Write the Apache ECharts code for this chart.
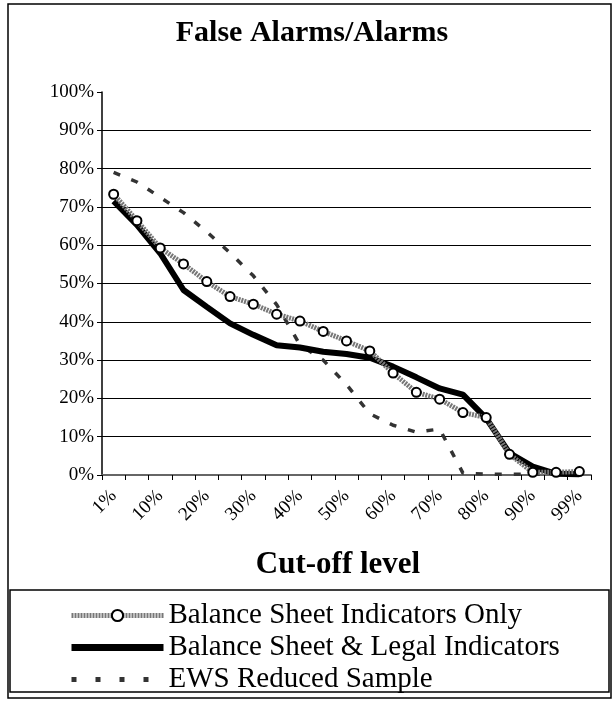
<!DOCTYPE html>
<html>
<head>
<meta charset="utf-8">
<script src="https://cdn.jsdelivr.net/npm/echarts@6/dist/echarts.min.js"></script>
<style>
html,body{margin:0;padding:0;background:#fff;}
#chart{width:615px;height:702px;}
</style>
</head>
<body>
<div id="chart"></div>
<script>
var categories = ['1%','5%','10%','15%','20%','25%','30%','35%','40%','45%','50%','55%','60%','65%','70%','75%','80%','85%','90%','95%','99%'];
var bsOnly  = [73.3, 66.4, 59.3, 55.1, 50.5, 46.6, 44.6, 42.0, 40.2, 37.5, 35.0, 32.4, 26.6, 21.6, 19.8, 16.3, 15.0, 5.4, 0.7, 0.7, 0.9];
var bsLegal = [71.5, 65.3, 57.9, 48.3, 43.9, 39.6, 36.6, 33.9, 33.3, 32.2, 31.6, 30.6, 28.3, 25.5, 22.6, 21.0, 14.8, 5.7, 2.2, 0.3, 0.2];
var ews     = [79.0, 76.5, 72.5, 68.5, 63.5, 58.0, 52.0, 44.5, 34.0, 30.0, 23.6, 16.0, 13.0, 11.2, 12.0, 0.5, 0.2, 0.2, 0.2, 0.2, 0.2];
var seriesNames = ['Balance Sheet Indicators Only', 'Balance Sheet & Legal Indicators', 'EWS Reduced Sample'];

var serif = 'Liberation Serif';
var chart = echarts.init(document.getElementById('chart'), null, {renderer: 'canvas'});

var splitColors = [];
for (var i = 0; i <= 10; i++) splitColors.push(i === 10 ? 'rgba(0,0,0,0)' : '#000');

chart.setOption({
  backgroundColor: '#fff',
  animation: false,
  title: [
    {text: 'False Alarms/Alarms', left: 307, top: 13, textAlign: 'center',
     textStyle: {fontFamily: serif, fontSize: 30, fontWeight: 'bold', color: '#000'}},
    {text: 'Cut-off level', left: 333, top: 544, textAlign: 'center',
     textStyle: {fontFamily: serif, fontSize: 31, fontWeight: 'bold', color: '#000'}}
  ],
  graphic: [
    {type: 'rect', shape: {x: 8, y: 4, width: 603, height: 694}, style: {fill: 'none', stroke: '#000', lineWidth: 1.5}, silent: true},
    {type: 'rect', shape: {x: 10, y: 590, width: 599, height: 102}, style: {fill: 'none', stroke: '#000', lineWidth: 1.5}, silent: true}
  ],
  legend: {
    orient: 'vertical',
    left: 63,
    top: 596,
    itemWidth: 92,
    itemHeight: 14,
    itemGap: 3,
    data: [
      {name: seriesNames[0], lineStyle: {width: 5}},
      {name: seriesNames[1], lineStyle: {width: 7}},
      {name: seriesNames[2], lineStyle: {width: 5, type: [5, 19]}}
    ],
    textStyle: {fontFamily: serif, fontSize: 29, color: '#000'}
  },
  grid: {left: 102, right: 24, top: 92, bottom: 227, containLabel: false},
  xAxis: {
    type: 'category',
    data: categories,
    boundaryGap: true,
    axisLine: {show: true, lineStyle: {color: '#666', width: 2}},
    axisTick: {show: true, interval: 0, length: 5, lineStyle: {color: '#000', width: 1}},
    axisLabel: {interval: 1, rotate: 45, fontFamily: serif, fontSize: 19, color: '#000', margin: 18},
    splitLine: {show: false}
  },
  yAxis: {
    type: 'value',
    min: 0, max: 100, interval: 10,
    axisLine: {show: true, lineStyle: {color: '#000', width: 1.5}},
    axisTick: {show: true, length: 5, lineStyle: {color: '#000'}},
    axisLabel: {formatter: '{value}%', fontFamily: serif, fontSize: 19, color: '#000', margin: 8},
    splitLine: {show: true, lineStyle: {color: splitColors, width: 1}}
  },
  series: [
    {
      name: seriesNames[0], type: 'line', data: bsOnly, z: 4,
      symbol: 'circle', symbolSize: 9, showSymbol: true,
      lineStyle: {color: '#777', width: 5, type: [2, 1]},
      itemStyle: {color: '#fff', borderColor: '#000', borderWidth: 2}
    },
    {
      name: seriesNames[1], type: 'line', data: bsLegal, z: 3,
      symbol: 'none',
      lineStyle: {color: '#000', width: 6},
      itemStyle: {color: 'rgba(0,0,0,0)', borderWidth: 0}
    },
    {
      name: seriesNames[2], type: 'line', data: ews, z: 2,
      symbol: 'none',
      lineStyle: {color: '#333', width: 3.5, type: [7, 12]},
      itemStyle: {color: 'rgba(0,0,0,0)', borderWidth: 0}
    }
  ]
});
</script>
</body>
</html>
